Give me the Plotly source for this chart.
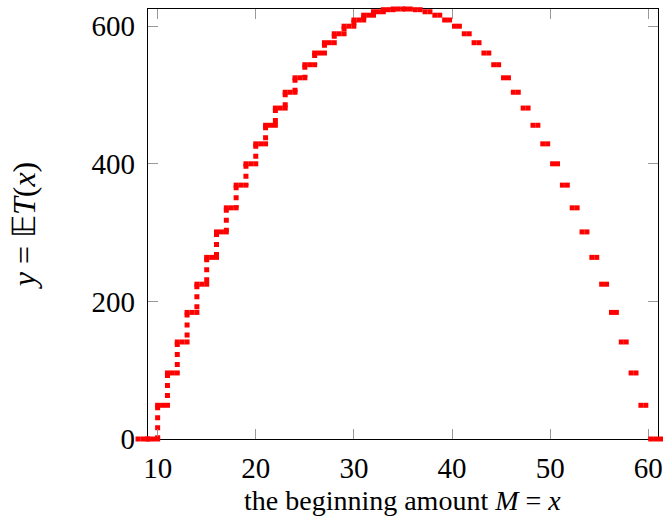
import plotly.graph_objects as go

# Expected duration of the game as a function of the starting amount
amounts = list(range(9, 62))
expected_time = [
    0, 0, 49, 96, 141, 184, 225, 264, 301, 336, 369, 400,
    429, 456, 481, 504, 525, 544, 561, 576, 589, 600,
    609, 616, 621, 624, 625,
    624, 621, 616, 609, 600,
    589, 576, 561, 544, 525, 504, 481, 456, 429, 400,
    369, 336, 301, 264, 225, 184, 141, 96, 49, 0, 0,
]
x_ticks = [10, 20, 30, 40, 50, 60]
y_ticks = [0, 200, 400, 600]

RED = "#ff0000"
FONT = "Liberation Serif"

W, H = 668, 520
FRAME_L, FRAME_R = 145, 663          # pixel edges of the axis box
FRAME_T, FRAME_B = 9, 439
X_RANGE = [9, 61]
Y_RANGE = [0, 625]

peak = expected_time.index(max(expected_time))

# plateau marks: rising side sampled on half units ending at the amount,
# falling side sampled inside the unit that starts at the amount
plat_x, plat_y = [], []
for i, (m, t) in enumerate(zip(amounts, expected_time)):
    if i <= peak:
        for dx in (-1.0, -0.5, 0.0):
            plat_x.append(m + dx)
            plat_y.append(t)
    if i >= peak:
        for dx in (0.25, 0.75):
            plat_x.append(m + dx)
            plat_y.append(t)

# dotted risers on the increasing side
rise_x, rise_y = [], []
for i in range(peak):
    lo, hi = expected_time[i], expected_time[i + 1]
    if hi > lo:
        rise_x += [amounts[i], amounts[i], None]
        rise_y += [hi, lo, None]

# plateau marks use a hidden full-width x axis with the same scale as the
# framed axis, so marks just outside the box are still drawn
ppu = (FRAME_R - FRAME_L) / (X_RANGE[1] - X_RANGE[0])
wide_range = [X_RANGE[0] - FRAME_L / ppu, X_RANGE[1] + (W - FRAME_R) / ppu]

fig = go.Figure()
fig.add_trace(go.Scatter(
    x=rise_x, y=rise_y, xaxis="x", yaxis="y", mode="lines",
    line=dict(color=RED, width=5, dash="dot"),
    hoverinfo="skip", showlegend=False,
))
fig.add_trace(go.Scatter(
    x=plat_x, y=plat_y, xaxis="x2", yaxis="y", mode="markers",
    marker=dict(symbol="square", size=5, color=RED, line=dict(width=0)),
    cliponaxis=False, showlegend=False,
))

axis_common = dict(
    showline=True, linecolor="black", linewidth=1, mirror="ticks",
    ticks="inside", ticklen=10, tickwidth=1, tickcolor="#999999",
    showgrid=False, zeroline=False,
    tickfont=dict(family=FONT, size=29, color="black"),
)

# x axis label placed below the tick labels
plot_h = FRAME_B - FRAME_T
fig.add_annotation(
    text="the beginning amount <i>M</i> = <i>x</i>",
    xref="x domain", yref="paper", x=0.5, y=(FRAME_B - 501) / plot_h,
    xanchor="center", yanchor="middle", showarrow=False,
    font=dict(family=FONT, size=28, color="black"),
)

fig.update_layout(
    width=W, height=H,
    margin=dict(l=0, r=0, t=FRAME_T, b=H - FRAME_B),
    paper_bgcolor="white", plot_bgcolor="rgba(0,0,0,0)",
    xaxis=dict(
        domain=[FRAME_L / W, FRAME_R / W], anchor="y",
        range=X_RANGE, tickvals=x_ticks, ticklabelstandoff=3,
        ticklabeloverflow="allow",
        **axis_common,
    ),
    xaxis2=dict(
        domain=[0, 1], range=wide_range, anchor="y", visible=False,
    ),
    yaxis=dict(
        range=Y_RANGE, tickvals=y_ticks, anchor="x",
        ticklabelstandoff=6,
        title=dict(text="<i>y</i> = 𝔼<i>T</i>(<i>x</i>)",
                   font=dict(family=FONT, size=32, color="black"), standoff=46),
        **axis_common,
    ),
)

fig.write_html("out.html")
